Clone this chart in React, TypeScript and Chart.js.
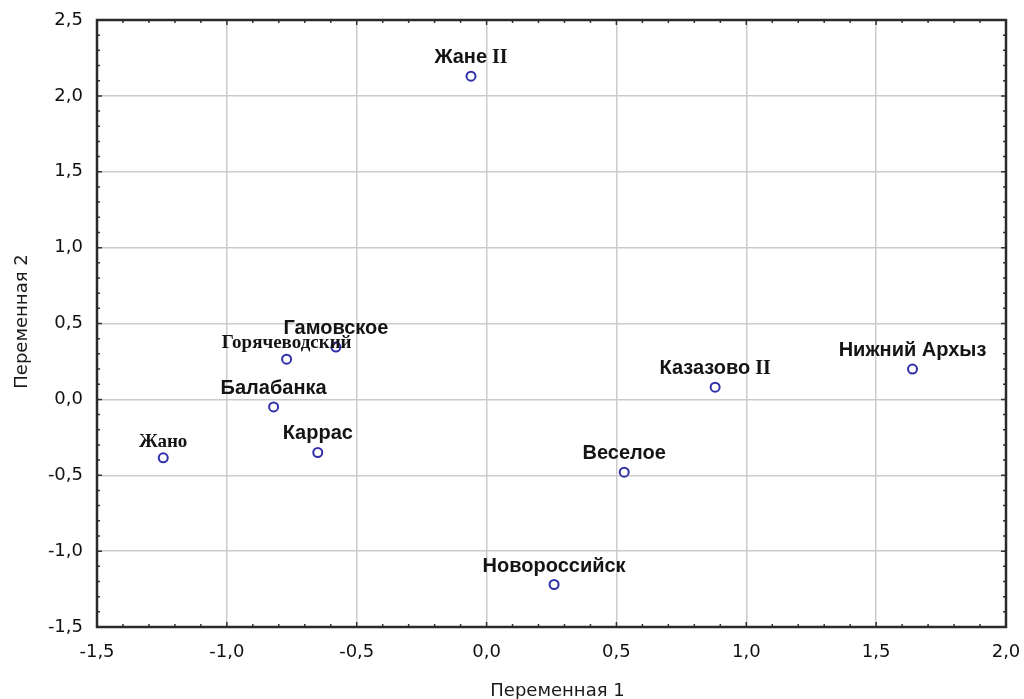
import React, { useEffect, useRef } from "react";
import { Chart, registerables } from "chart.js";

Chart.register(...registerables);

// ---- data ----
const siteNames = [
  "Жане II",
  "Гамовское",
  "Горячеводский",
  "Балабанка",
  "Каррас",
  "Жано",
  "Казазово II",
  "Нижний Архыз",
  "Веселое",
  "Новороссийск",
];
const variable1 = [-0.06, -0.58, -0.77, -0.82, -0.65, -1.245, 0.88, 1.64, 0.53, 0.26];
const variable2 = [2.13, 0.345, 0.265, -0.05, -0.35, -0.385, 0.08, 0.2, -0.48, -1.22];
const xTickValues = [-1.5, -1.0, -0.5, 0.0, 0.5, 1.0, 1.5, 2.0];
const yTickValues = [-1.5, -1.0, -0.5, 0.0, 0.5, 1.0, 1.5, 2.0, 2.5];
const xAxisTitle = "Переменная 1";
const yAxisTitle = "Переменная 2";
const serifLabels = ["Горячеводский", "Жано"];

const fmt = (v: number) => Number(v).toFixed(1).replace(".", ",");

const SANS_LABEL = "bold 20px 'Liberation Sans', Arial, sans-serif";
const SERIF_LABEL = "bold 19px 'Liberation Serif', 'Times New Roman', serif";
const SERIF_NUM = "bold 20px 'Liberation Serif', 'Times New Roman', serif";
const AXIS_FONT = "18px 'DejaVu Sans', sans-serif";

const decorPlugin = {
  id: "decor",
  afterDatasetsDraw(chart: any) {
    const ctx = chart.ctx;
    const meta = chart.getDatasetMeta(0);
    ctx.save();
    ctx.fillStyle = "#141414";
    ctx.textBaseline = "alphabetic";
    meta.data.forEach((el: any, i: number) => {
      const name = siteNames[i];
      const cx = el.x;
      const cy = el.y;
      if (serifLabels.includes(name)) {
        ctx.font = SERIF_LABEL;
        ctx.textAlign = "center";
        ctx.fillText(name, cx, cy - 11);
      } else if (name.endsWith(" II")) {
        const base = name.slice(0, -3);
        const suffix = " II";
        ctx.font = SANS_LABEL;
        const w1 = ctx.measureText(base).width;
        ctx.font = SERIF_NUM;
        const w2 = ctx.measureText(suffix).width;
        const start = cx - (w1 + w2) / 2;
        ctx.textAlign = "left";
        ctx.font = SANS_LABEL;
        ctx.fillText(base, start, cy - 13);
        ctx.font = SERIF_NUM;
        ctx.fillText(suffix, start + w1, cy - 13);
      } else {
        ctx.font = SANS_LABEL;
        ctx.textAlign = "center";
        ctx.fillText(name, cx, cy - 13);
      }
    });
    ctx.restore();
  },
  afterDraw(chart: any) {
    const ctx = chart.ctx;
    const { left, right, top, bottom } = chart.chartArea;
    const xs = chart.scales.x;
    const ys = chart.scales.y;
    ctx.save();
    // minor / major ticks on all sides, pointing inward
    ctx.strokeStyle = "#333";
    ctx.lineWidth = 1.5;
    const nx = Math.round((xs.max - xs.min) / 0.1);
    for (let i = 0; i <= nx; i++) {
      const v = xs.min + i * 0.1;
      const px = xs.getPixelForValue(v);
      const len = i % 5 === 0 ? 5 : 3;
      ctx.beginPath();
      ctx.moveTo(px, bottom);
      ctx.lineTo(px, bottom - len);
      ctx.moveTo(px, top);
      ctx.lineTo(px, top + len);
      ctx.stroke();
    }
    const ny = Math.round((ys.max - ys.min) / 0.1);
    for (let i = 0; i <= ny; i++) {
      const v = ys.min + i * 0.1;
      const py = ys.getPixelForValue(v);
      const len = i % 5 === 0 ? 5 : 3;
      ctx.beginPath();
      ctx.moveTo(left, py);
      ctx.lineTo(left + len, py);
      ctx.moveTo(right, py);
      ctx.lineTo(right - len, py);
      ctx.stroke();
    }
    // frame
    ctx.strokeStyle = "#2a2a2a";
    ctx.lineWidth = 2.5;
    ctx.strokeRect(left, top, right - left, bottom - top);

    // axis titles
    ctx.fillStyle = "#1a1a1a";
    ctx.font = AXIS_FONT;
    ctx.textAlign = "center";
    ctx.textBaseline = "alphabetic";
    ctx.fillText(xAxisTitle, (left + right) / 2 + 6, chart.height - 3);
    ctx.save();
    ctx.translate(27, (top + bottom) / 2 - 2);
    ctx.rotate(-Math.PI / 2);
    ctx.fillText(yAxisTitle, 0, 0);
    ctx.restore();
    ctx.restore();
  },
};

export default function App() {
  const canvasRef = useRef<HTMLCanvasElement | null>(null);

  useEffect(() => {
    document.body.style.margin = "0";
    const canvas = canvasRef.current;
    if (!canvas) return;
    const points = variable1.map((x, i) => ({ x, y: variable2[i] }));
    const chart = new Chart(canvas, {
      type: "scatter",
      data: {
        datasets: [
          {
            data: points,
            pointRadius: 4.5,
            pointHoverRadius: 4.5,
            pointBorderWidth: 2,
            borderColor: "#3030aa",
            backgroundColor: "#ffffff",
          },
        ],
      },
      options: {
        responsive: false,
        animation: false,
        events: [],
        layout: { padding: { left: 0, top: 20, right: 18, bottom: 0 } },
        plugins: {
          legend: { display: false },
          tooltip: { enabled: false },
          title: { display: false },
        },
        scales: {
          x: {
            type: "linear",
            min: -1.5,
            max: 2.0,
            afterBuildTicks: (scale: any) => {
              scale.ticks = xTickValues.map((v) => ({ value: v }));
            },
            afterFit: (scale: any) => {
              scale.height = 72;
              scale.paddingLeft = 0;
              scale.paddingRight = 0;
            },
            ticks: {
              callback: (v: any) => fmt(v),
              font: { family: "'DejaVu Sans', sans-serif", size: 18 },
              color: "#111",
              padding: 15,
              maxRotation: 0,
              autoSkip: false,
            },
            grid: { color: "#cccccc", lineWidth: 1.5, drawTicks: false },
            border: { display: false },
          },
          y: {
            type: "linear",
            min: -1.5,
            max: 2.5,
            afterBuildTicks: (scale: any) => {
              scale.ticks = yTickValues.map((v) => ({ value: v }));
            },
            afterFit: (scale: any) => {
              scale.width = 97;
              scale.paddingTop = 0;
              scale.paddingBottom = 0;
            },
            ticks: {
              callback: (v: any) => fmt(v),
              font: { family: "'DejaVu Sans', sans-serif", size: 18 },
              color: "#111",
              padding: 14,
              autoSkip: false,
            },
            grid: { color: "#cccccc", lineWidth: 1.5, drawTicks: false },
            border: { display: false },
          },
        },
      },
      plugins: [decorPlugin],
    });
    return () => chart.destroy();
  }, []);

  return (
    <div style={{ width: 1024, height: 699, position: "relative", background: "#fff" }}>
      <canvas ref={canvasRef} width={1024} height={699} />
    </div>
  );
}
